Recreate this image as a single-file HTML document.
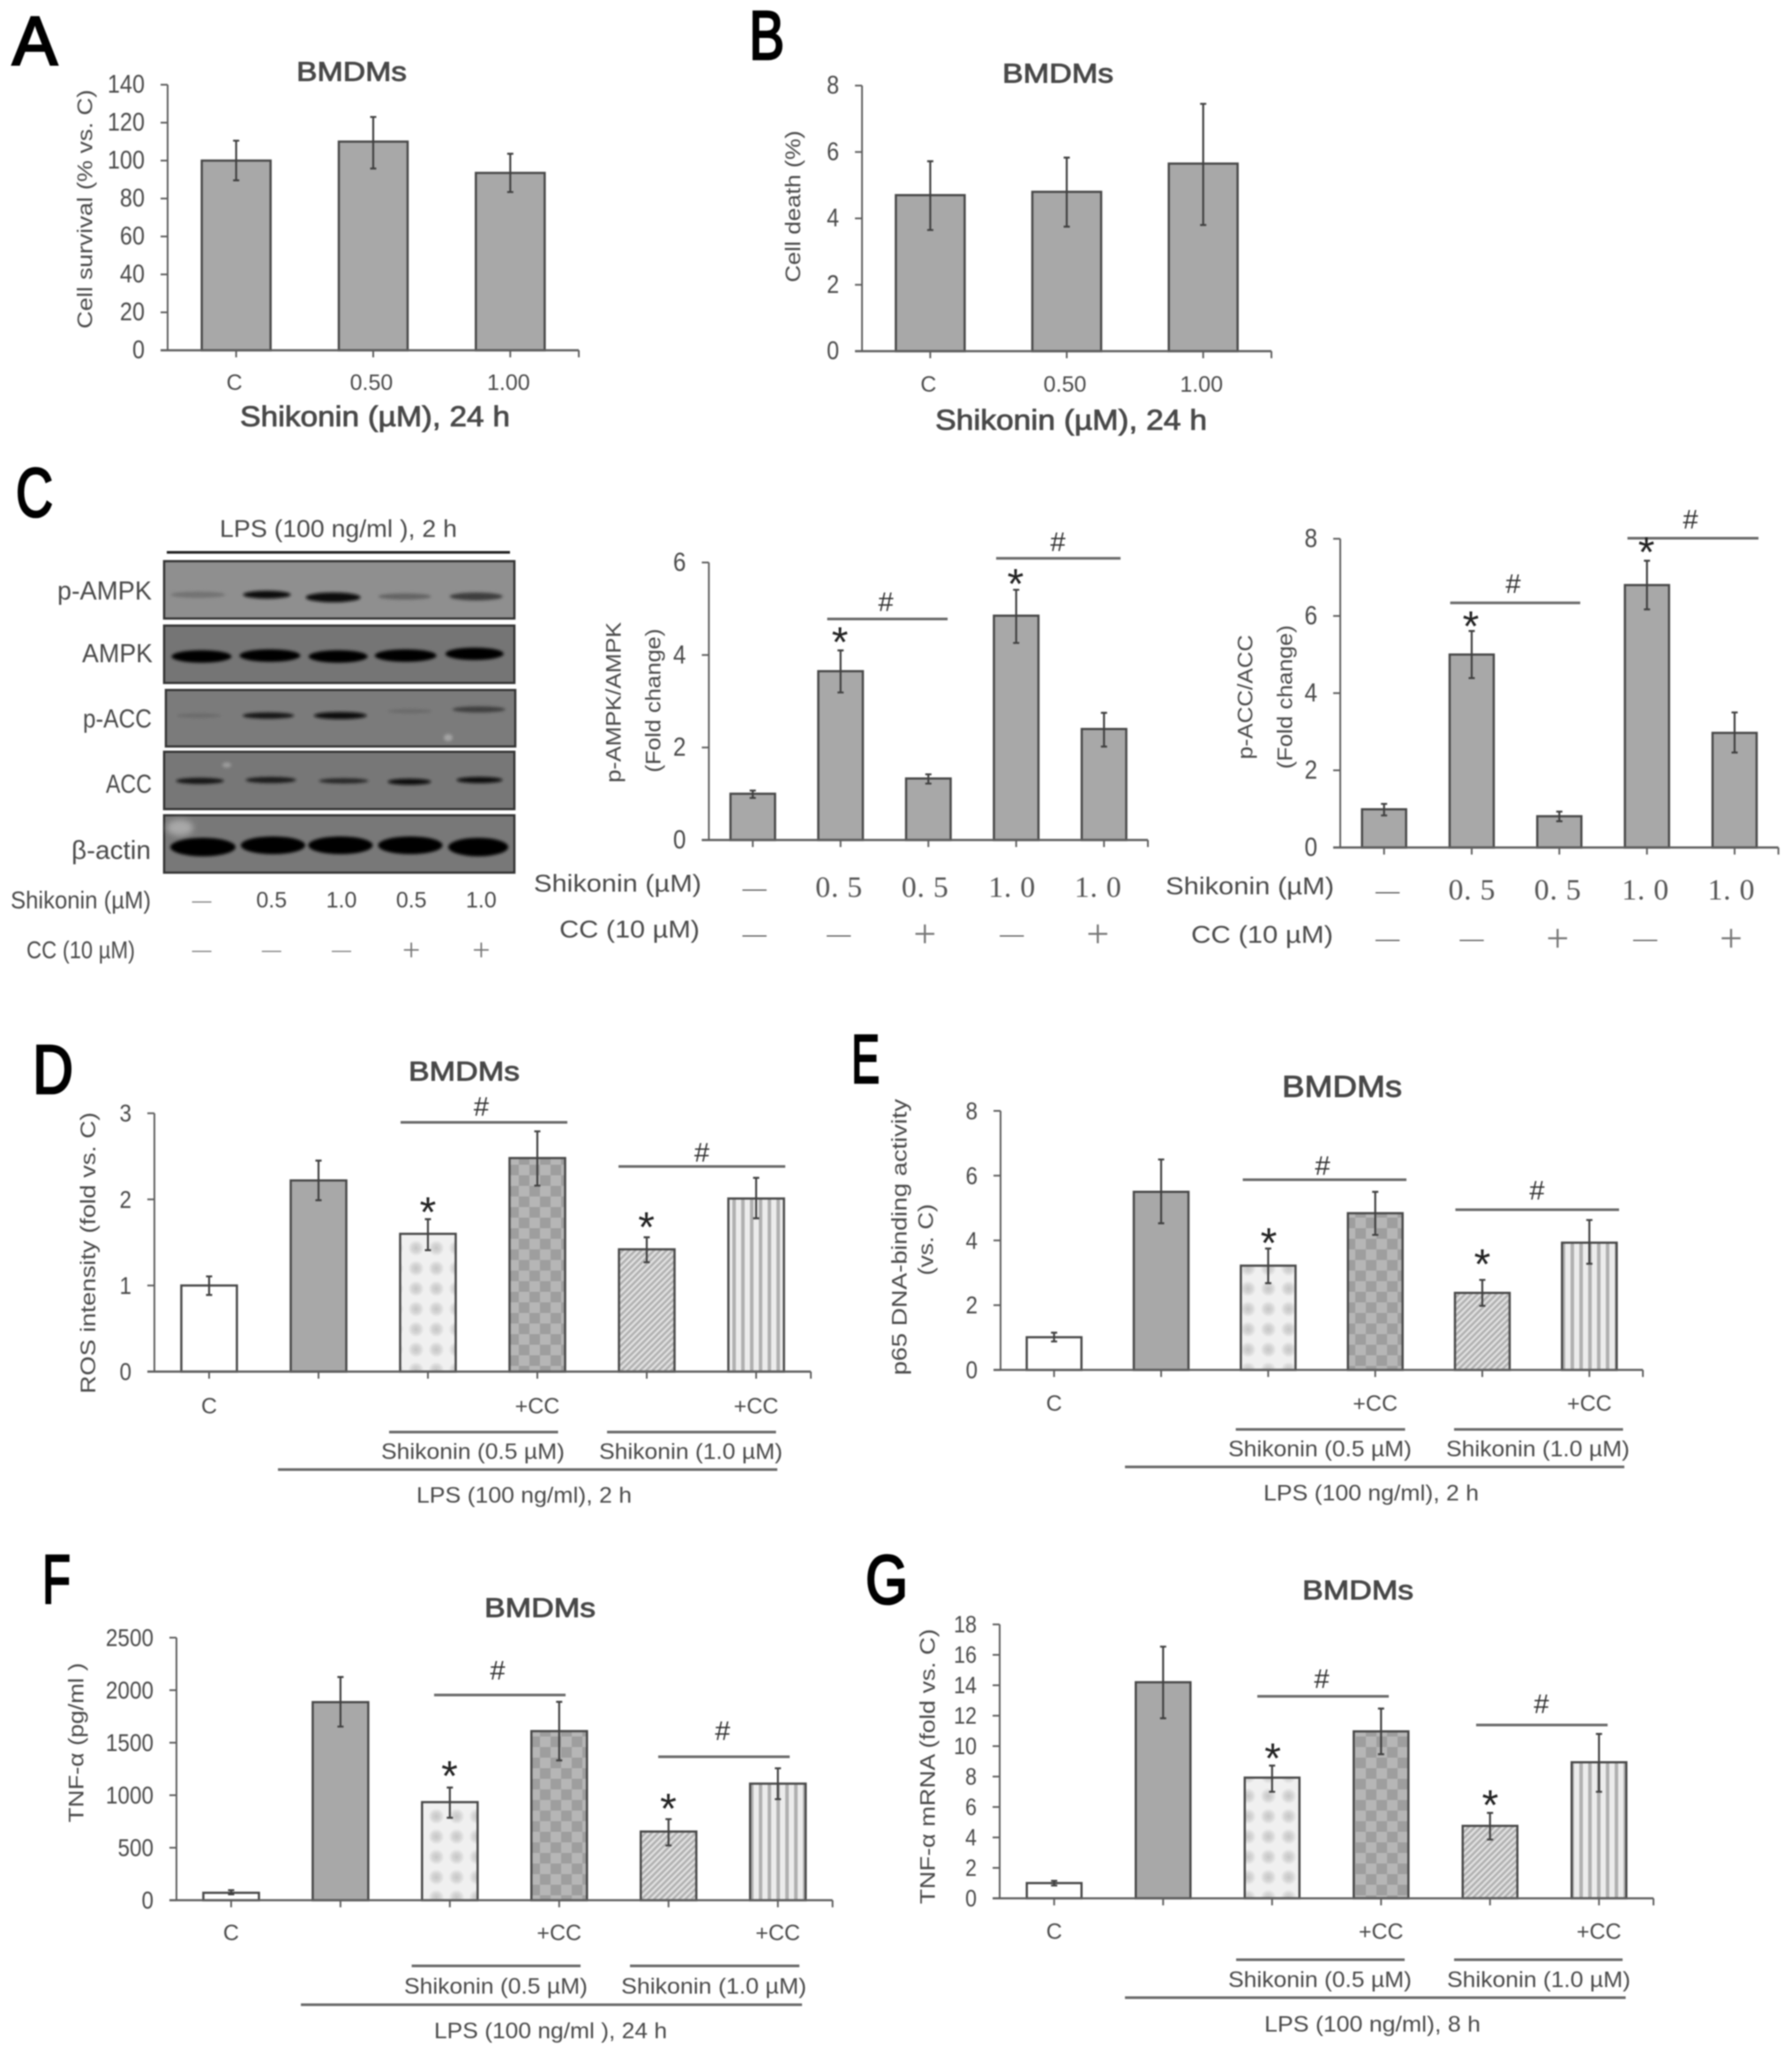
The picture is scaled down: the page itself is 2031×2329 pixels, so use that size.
<!DOCTYPE html>
<html lang="en">
<head>
<meta charset="utf-8">
<title>Shikonin BMDM figure panels</title>
<style>
html,body{margin:0;padding:0;background:#fff;}
#figure{display:block;width:2031px;height:2329px;filter:blur(0.7px);}
text{font-family:"Liberation Sans",sans-serif;fill:#4a4a4a;dominant-baseline:central;text-anchor:middle;}
.letter{font-size:78px;fill:#000;stroke:#000;stroke-width:2.6px;}
.title{font-size:31px;stroke:#444;stroke-width:.9px;}
.xtitle{font-size:32px;stroke:#444;stroke-width:.8px;}
.ylab{font-size:24px;}
.lab{font-size:25px;}
.tick{font-size:26px;}
.star{font-size:48px;fill:#222;dominant-baseline:auto;transform:translateY(-3px);}
.hash{font-size:31px;fill:#333;}
.blot-lab{font-size:30px;}
.rowlab{font-size:28px;}
.serif{font-family:"Liberation Serif",serif;font-size:34px;fill:#555;}
.rule{stroke:#6a6a6a;stroke-width:3;}
.blot{stroke:#333;stroke-width:2.5;}
</style>
</head>
<body>
<svg id="figure" xmlns="http://www.w3.org/2000/svg" width="2031" height="2329" viewBox="0 0 2031 2329">
<defs>
  <pattern id="p-check" width="24" height="24" patternUnits="userSpaceOnUse"><rect width="24" height="24" fill="#b6b6b6"/><rect width="12" height="12" fill="#9e9e9e"/><rect x="12" y="12" width="12" height="12" fill="#9e9e9e"/></pattern>
  <radialGradient id="g-plaid"><stop offset="0" stop-color="#c6c6c6"/><stop offset="0.55" stop-color="#d6d6d6"/><stop offset="1" stop-color="#f0f0f0"/></radialGradient>
  <pattern id="p-plaid" width="23" height="23" patternUnits="userSpaceOnUse"><rect width="23" height="23" fill="#f0f0f0"/><circle cx="11.5" cy="11.5" r="9" fill="url(#g-plaid)"/></pattern>
  <pattern id="p-diag" width="5" height="5" patternUnits="userSpaceOnUse" patternTransform="rotate(45)"><rect width="5" height="5" fill="#e0e0e0"/><rect width="2.5" height="5" fill="#b0b0b0"/></pattern>
  <pattern id="p-vert" width="10" height="10" patternUnits="userSpaceOnUse"><rect width="10" height="10" fill="#ececec"/><rect width="4" height="10" fill="#b0b0b0"/></pattern>
  <filter id="soft" x="-20%" y="-60%" width="140%" height="220%"><feGaussianBlur stdDeviation="1.6"/></filter>
  <filter id="softer" x="-50%" y="-50%" width="200%" height="200%"><feGaussianBlur stdDeviation="3.5"/></filter>
</defs>

<!-- Panel letters -->
<text class="letter" x="39.5" y="46" textLength="51" lengthAdjust="spacingAndGlyphs">A</text>
<text class="letter" x="869" y="40" textLength="40" lengthAdjust="spacingAndGlyphs">B</text>
<text class="letter" x="39" y="558" textLength="42" lengthAdjust="spacingAndGlyphs">C</text>
<text class="letter" x="60" y="1212" textLength="46" lengthAdjust="spacingAndGlyphs">D</text>
<text class="letter" x="981" y="1200" textLength="32" lengthAdjust="spacingAndGlyphs">E</text>
<text class="letter" x="64" y="1790" textLength="32" lengthAdjust="spacingAndGlyphs">F</text>
<text class="letter" x="1005" y="1790" textLength="48" lengthAdjust="spacingAndGlyphs">G</text>

<!-- Panel A annotations -->
<text class="title" x="398.5" y="81" textLength="125" lengthAdjust="spacingAndGlyphs">BMDMs</text>
<text class="ylab" transform="translate(97 237) rotate(-90)" textLength="271" lengthAdjust="spacingAndGlyphs">Cell survival (% vs. C)</text>
<text class="xtitle" x="425" y="472" textLength="306" lengthAdjust="spacingAndGlyphs">Shikonin (µM), 24 h</text>

<!-- Panel B annotations -->
<text class="title" x="1199" y="83" textLength="126" lengthAdjust="spacingAndGlyphs">BMDMs</text>
<text class="ylab" transform="translate(899.5 234) rotate(-90)" textLength="172" lengthAdjust="spacingAndGlyphs">Cell death (%)</text>
<text class="xtitle" x="1214" y="476" textLength="308" lengthAdjust="spacingAndGlyphs">Shikonin (µM), 24 h</text>

<!-- Panel C western blot -->
<g>
  <text class="rowlab" x="383.5" y="599" textLength="269" lengthAdjust="spacingAndGlyphs">LPS (100 ng/ml ), 2 h</text>
  <line x1="189" y1="626" x2="578" y2="626" stroke="#222" stroke-width="3"/>
  <rect class="blot" x="186" y="636" width="397" height="65" fill="#8f8f8f"/>
  <rect class="blot" x="186" y="709" width="397" height="65" fill="#757575"/>
  <rect class="blot" x="188" y="782" width="396" height="64" fill="#7b7b7b"/>
  <rect class="blot" x="186" y="852" width="397" height="65" fill="#777777"/>
  <rect class="blot" x="186" y="924" width="397" height="65" fill="#787878"/>
  <ellipse cx="204" cy="938" rx="15" ry="9" fill="#a8a8a8" filter="url(#softer)"/>
  <ellipse cx="257" cy="867" rx="5" ry="3" fill="#9c9c9c" filter="url(#soft)"/>
  <ellipse cx="508" cy="836" rx="5" ry="4" fill="#a4a4a4" filter="url(#soft)"/>
  <g filter="url(#soft)">
    <ellipse cx="224.4" cy="674" rx="31" ry="3.5" fill="#727272"/>
    <ellipse cx="302.5" cy="674" rx="27" ry="4.5" fill="#0c0c0c"/>
    <ellipse cx="377.6" cy="677" rx="31" ry="5.5" fill="#0a0a0a"/>
    <ellipse cx="458.7" cy="676" rx="30" ry="3.5" fill="#646464"/>
    <ellipse cx="539.7" cy="676" rx="30" ry="4.5" fill="#3e3e3e"/>
    <ellipse cx="228.4" cy="744" rx="34" ry="7" fill="#060606"/>
    <ellipse cx="305.9" cy="743" rx="34.5" ry="7" fill="#060606"/>
    <ellipse cx="383.2" cy="744" rx="33.5" ry="7" fill="#060606"/>
    <ellipse cx="459.7" cy="743" rx="35" ry="7" fill="#060606"/>
    <ellipse cx="537.8" cy="741" rx="33" ry="7" fill="#060606"/>
    <ellipse cx="225.4" cy="811" rx="25" ry="2.5" fill="#6a6a6a"/>
    <ellipse cx="304.1" cy="811" rx="29" ry="3.5" fill="#151515"/>
    <ellipse cx="385.7" cy="811" rx="30" ry="4" fill="#101010"/>
    <ellipse cx="464.6" cy="806" rx="25" ry="2.5" fill="#6a6a6a"/>
    <ellipse cx="542.7" cy="804" rx="30" ry="3.5" fill="#404040"/>
    <ellipse cx="226.6" cy="885" rx="27" ry="3.5" fill="#141414"/>
    <ellipse cx="307" cy="884" rx="28.5" ry="3.5" fill="#1a1a1a"/>
    <ellipse cx="389.5" cy="885" rx="28" ry="3" fill="#262626"/>
    <ellipse cx="464" cy="886" rx="24.5" ry="3.5" fill="#0e0e0e"/>
    <ellipse cx="543.5" cy="884" rx="26" ry="3.5" fill="#0e0e0e"/>
    <ellipse cx="230" cy="960" rx="37" ry="10.5" fill="#000"/>
    <ellipse cx="309.4" cy="958" rx="36.5" ry="10" fill="#000"/>
    <ellipse cx="385.9" cy="958" rx="36.5" ry="10" fill="#000"/>
    <ellipse cx="465" cy="958" rx="36.5" ry="10" fill="#000"/>
    <ellipse cx="542" cy="960" rx="34" ry="10.5" fill="#000"/>
  </g>
  <text class="blot-lab" x="118.5" y="670" textLength="107" lengthAdjust="spacingAndGlyphs">p-AMPK</text>
  <text class="blot-lab" x="133" y="741" textLength="80" lengthAdjust="spacingAndGlyphs">AMPK</text>
  <text class="blot-lab" x="133" y="815" textLength="78" lengthAdjust="spacingAndGlyphs">p-ACC</text>
  <text class="blot-lab" x="146" y="889" textLength="52" lengthAdjust="spacingAndGlyphs">ACC</text>
  <text class="blot-lab" x="126" y="964" textLength="90" lengthAdjust="spacingAndGlyphs">β-actin</text>
  <text class="rowlab" x="91.5" y="1020" textLength="159" lengthAdjust="spacingAndGlyphs">Shikonin (µM)</text>
  <text class="rowlab" x="91.5" y="1076.5" textLength="123" lengthAdjust="spacingAndGlyphs">CC (10 µM)</text>
</g>
<g id="blot-rows"></g>

<!-- Panel C p-AMPK annotations -->
<text class="ylab" transform="translate(696 796) rotate(-90)" textLength="182" lengthAdjust="spacingAndGlyphs">p-AMPK/AMPK</text>
<text class="ylab" transform="translate(741 794) rotate(-90)" textLength="163" lengthAdjust="spacingAndGlyphs">(Fold change)</text>
<line class="rule" x1="937.5" y1="701.5" x2="1074" y2="701.5"/>
<line class="rule" x1="1129" y1="632.7" x2="1270" y2="632.7"/>
<text class="hash" x="1004" y="682">#</text>
<text class="hash" x="1199" y="614">#</text>
<text class="star" x="952" y="747">*</text>
<text class="star" x="1151" y="681">*</text>
<text class="rowlab" x="700" y="1001" textLength="190" lengthAdjust="spacingAndGlyphs">Shikonin (µM)</text>
<text class="rowlab" x="713.5" y="1053" textLength="159" lengthAdjust="spacingAndGlyphs">CC (10 µM)</text>

<!-- Panel C p-ACC annotations -->
<text class="ylab" transform="translate(1412 790) rotate(-90)" textLength="141" lengthAdjust="spacingAndGlyphs">p-ACC/ACC</text>
<text class="ylab" transform="translate(1457 790) rotate(-90)" textLength="163" lengthAdjust="spacingAndGlyphs">(Fold change)</text>
<line class="rule" x1="1643.6" y1="683.3" x2="1791" y2="683.3"/>
<line class="rule" x1="1844.5" y1="610" x2="1993" y2="610"/>
<text class="hash" x="1715" y="661.6">#</text>
<text class="hash" x="1916" y="588.6">#</text>
<text class="star" x="1667" y="729">*</text>
<text class="star" x="1866" y="645">*</text>
<text class="rowlab" x="1416.5" y="1004" textLength="191" lengthAdjust="spacingAndGlyphs">Shikonin (µM)</text>
<text class="rowlab" x="1430.5" y="1059" textLength="161" lengthAdjust="spacingAndGlyphs">CC (10 µM)</text>

<!-- Panel D annotations -->
<text class="title" x="526" y="1214" textLength="126" lengthAdjust="spacingAndGlyphs">BMDMs</text>
<text class="ylab" transform="translate(100.7 1420) rotate(-90)" textLength="319" lengthAdjust="spacingAndGlyphs">ROS intensity (fold vs. C)</text>
<line class="rule" x1="454" y1="1272" x2="643" y2="1272"/>
<line class="rule" x1="701" y1="1322" x2="890" y2="1322"/>
<text class="hash" x="545.5" y="1254">#</text>
<text class="hash" x="795.5" y="1306">#</text>
<text class="star" x="485" y="1393">*</text>
<text class="star" x="732.6" y="1410">*</text>
<line class="rule" x1="441" y1="1623" x2="632.5" y2="1623"/>
<line class="rule" x1="688" y1="1623" x2="879.5" y2="1623"/>
<line class="rule" x1="315" y1="1665.5" x2="881" y2="1665.5"/>
<text class="lab" x="536" y="1645.6" textLength="208" lengthAdjust="spacingAndGlyphs">Shikonin (0.5 µM)</text>
<text class="lab" x="783" y="1645.6" textLength="208" lengthAdjust="spacingAndGlyphs">Shikonin (1.0 µM)</text>
<text class="lab" x="594" y="1695" textLength="244" lengthAdjust="spacingAndGlyphs">LPS (100 ng/ml), 2 h</text>

<!-- Panel E annotations -->
<text class="title" x="1521" y="1232" textLength="136" lengthAdjust="spacingAndGlyphs" style="font-size:34px">BMDMs</text>
<text class="ylab" transform="translate(1020 1402) rotate(-90)" textLength="313" lengthAdjust="spacingAndGlyphs">p65 DNA-binding activity</text>
<text class="ylab" transform="translate(1050 1405) rotate(-90)" textLength="81" lengthAdjust="spacingAndGlyphs">(vs. C)</text>
<line class="rule" x1="1408.5" y1="1337" x2="1594" y2="1337"/>
<line class="rule" x1="1649.5" y1="1371" x2="1835" y2="1371"/>
<text class="hash" x="1499" y="1321">#</text>
<text class="hash" x="1742" y="1349">#</text>
<text class="star" x="1438" y="1428">*</text>
<text class="star" x="1680" y="1452">*</text>
<line class="rule" x1="1400.6" y1="1620" x2="1592.5" y2="1620"/>
<line class="rule" x1="1648" y1="1620" x2="1839.5" y2="1620"/>
<line class="rule" x1="1275" y1="1662.5" x2="1841" y2="1662.5"/>
<text class="lab" x="1496" y="1642.5" textLength="208" lengthAdjust="spacingAndGlyphs">Shikonin (0.5 µM)</text>
<text class="lab" x="1743" y="1642.5" textLength="208" lengthAdjust="spacingAndGlyphs">Shikonin (1.0 µM)</text>
<text class="lab" x="1554" y="1692.6" textLength="244" lengthAdjust="spacingAndGlyphs">LPS (100 ng/ml), 2 h</text>

<!-- Panel F annotations -->
<text class="title" x="612" y="1822" textLength="126" lengthAdjust="spacingAndGlyphs">BMDMs</text>
<text class="ylab" transform="translate(87 1975) rotate(-90)" textLength="181" lengthAdjust="spacingAndGlyphs">TNF-α (pg/ml )</text>
<line class="rule" x1="492" y1="1921" x2="641" y2="1921"/>
<line class="rule" x1="746" y1="1991" x2="895" y2="1991"/>
<text class="hash" x="564" y="1893">#</text>
<text class="hash" x="819" y="1961.6">#</text>
<text class="star" x="509.5" y="2032">*</text>
<text class="star" x="757.5" y="2069">*</text>
<line class="rule" x1="466.6" y1="2228" x2="658" y2="2228"/>
<line class="rule" x1="714" y1="2228" x2="906" y2="2228"/>
<line class="rule" x1="341" y1="2272" x2="909" y2="2272"/>
<text class="lab" x="562" y="2251.5" textLength="208" lengthAdjust="spacingAndGlyphs">Shikonin (0.5 µM)</text>
<text class="lab" x="809" y="2251.5" textLength="210" lengthAdjust="spacingAndGlyphs">Shikonin (1.0 µM)</text>
<text class="lab" x="624" y="2302" textLength="264" lengthAdjust="spacingAndGlyphs">LPS (100 ng/ml ), 24 h</text>

<!-- Panel G annotations -->
<text class="title" x="1539" y="1802" textLength="126" lengthAdjust="spacingAndGlyphs">BMDMs</text>
<text class="ylab" transform="translate(1052 2002) rotate(-90)" textLength="312" lengthAdjust="spacingAndGlyphs">TNF-α mRNA (fold vs. C)</text>
<line class="rule" x1="1425" y1="1922.5" x2="1574" y2="1922.5"/>
<line class="rule" x1="1673" y1="1955" x2="1822" y2="1955"/>
<text class="hash" x="1498" y="1902.5">#</text>
<text class="hash" x="1747" y="1931">#</text>
<text class="star" x="1442.5" y="2012">*</text>
<text class="star" x="1689" y="2065">*</text>
<line class="rule" x1="1401" y1="2221" x2="1592" y2="2221"/>
<line class="rule" x1="1648" y1="2221" x2="1839" y2="2221"/>
<line class="rule" x1="1275" y1="2264" x2="1842.5" y2="2264"/>
<text class="lab" x="1496" y="2244" textLength="208" lengthAdjust="spacingAndGlyphs">Shikonin (0.5 µM)</text>
<text class="lab" x="1744" y="2244" textLength="208" lengthAdjust="spacingAndGlyphs">Shikonin (1.0 µM)</text>
<text class="lab" x="1555.5" y="2294.7" textLength="245" lengthAdjust="spacingAndGlyphs">LPS (100 ng/ml), 8 h</text>

<g id="charts"></g>
</svg>

<script>
// ---- Panel A ----
const aCategories = ['C', '0.50', '1.00'];
const aValues = [100, 110, 93.5];
const aErrHigh = [110.5, 123, 103.6];
const aErrLow = [89.6, 95.8, 83.4];
const aTicks = [0, 20, 40, 60, 80, 100, 120, 140];
// ---- Panel B ----
const bCategories = ['C', '0.50', '1.00'];
const bValues = [4.7, 4.8, 5.65];
const bErrHigh = [5.72, 5.83, 7.45];
const bErrLow = [3.65, 3.75, 3.8];
const bTicks = [0, 2, 4, 6, 8];
// ---- Panel C, p-AMPK ----
const ampkValues = [1.0, 3.65, 1.33, 4.85, 2.4];
const ampkErrHigh = [1.07, 4.1, 1.42, 5.41, 2.75];
const ampkErrLow = [0.91, 3.19, 1.22, 4.26, 2.02];
const ampkTicks = [0, 2, 4, 6];
// ---- Panel C, p-ACC ----
const accValues = [0.99, 5.0, 0.81, 6.8, 2.97];
const accErrHigh = [1.13, 5.61, 0.93, 7.43, 3.5];
const accErrLow = [0.83, 4.39, 0.68, 6.17, 2.46];
const accTicks = [0, 2, 4, 6, 8];
// ---- Panel C treatment rows ----
const blotShikonin = ['—', '0.5', '1.0', '0.5', '1.0'];
const blotCC = ['—', '—', '—', '+', '+'];
const chartShikonin = ['—', '0. 5', '0. 5', '1. 0', '1. 0'];
const chartCC = ['—', '—', '+', '—', '+'];
// ---- Panel D ----
const treatmentCategories = ['C', '', '', '+CC', '', '+CC'];
const dValues = [1.0, 2.22, 1.6, 2.48, 1.42, 2.01];
const dErrHigh = [1.106, 2.45, 1.77, 2.79, 1.56, 2.25];
const dErrLow = [0.89, 1.99, 1.41, 2.16, 1.27, 1.78];
const dTicks = [0, 1, 2, 3];
// ---- Panel E ----
const eValues = [1.01, 5.5, 3.22, 4.84, 2.38, 3.93];
const eErrHigh = [1.15, 6.5, 3.75, 5.5, 2.78, 4.63];
const eErrLow = [0.88, 4.53, 2.68, 4.17, 1.98, 3.28];
const eTicks = [0, 2, 4, 6, 8];
// ---- Panel F ----
const fValues = [71, 1886, 934, 1610, 654, 1110];
const fErrHigh = [96, 2125, 1073, 1889, 772, 1256];
const fErrLow = [56, 1653, 785, 1331, 521, 962];
const fTicks = [0, 500, 1000, 1500, 2000, 2500];
// ---- Panel G ----
const gValues = [1.0, 14.2, 7.93, 10.97, 4.76, 8.94];
const gErrHigh = [1.15, 16.54, 8.72, 12.47, 5.61, 10.8];
const gErrLow = [0.84, 11.83, 7.0, 9.47, 3.86, 7.0];
const gTicks = [0, 2, 4, 6, 8, 10, 12, 14, 16, 18];

const SVG_NS = 'http://www.w3.org/2000/svg';
const SOLID = '#a8a8a8';
const TREATMENT_FILLS = ['#ffffff', SOLID, 'url(#p-plaid)', 'url(#p-check)', 'url(#p-diag)', 'url(#p-vert)'];
const AXIS_COLOR = '#5f5f5f';
const MARK_COLOR = '#484848';

function svgEl(parent, tag, props) {
  const el = document.createElementNS(SVG_NS, tag);
  for (const k in props) {
    el.setAttribute(k, props[k]);
  }
  parent.appendChild(el);
  return el;
}

function makeXScale(x0, x1, n) {
  const band = (x1 - x0) / n;
  return function (i) { return x0 + (i + 0.5) * band; };
}

function makeYScale(yBottom, yTop, yMax) {
  return function (v) { return yBottom - (v / yMax) * (yBottom - yTop); };
}

function drawChart(cfg) {
  const root = document.getElementById('charts');
  const key = cfg.key;
  const n = cfg.values.length;
  const xAt = makeXScale(cfg.x0, cfg.x1, n);
  const yAt = makeYScale(cfg.yBottom, cfg.yTop, cfg.yMax);

  const group = svgEl(root, 'g', {});
  
  

  // bars
  cfg.values.forEach(function (v, i) {
    const top = yAt(v);
    const bar = svgEl(group, 'rect', {
      x: xAt(i) - cfg.barW / 2, y: top, width: cfg.barW, height: cfg.yBottom - top,
      fill: cfg.fills ? cfg.fills[i] : SOLID, stroke: MARK_COLOR, 'stroke-width': 2.5
    });
    
    
  });

  // error bars
  cfg.values.forEach(function (v, i) {
    const cx = xAt(i);
    const hi = yAt(cfg.high[i]);
    const lo = yAt(cfg.low[i]);
    const err = svgEl(group, 'path', {
      d: 'M' + (cx - 3.5) + ' ' + hi + 'H' + (cx + 3.5) + 'M' + cx + ' ' + hi + 'V' + lo + 'M' + (cx - 3.5) + ' ' + lo + 'H' + (cx + 3.5),
      fill: 'none', stroke: '#404040', 'stroke-width': 2.2
    });
    
    
  });

  // axes
  const yAxis = svgEl(group, 'line', { x1: cfg.x0, y1: cfg.yTop, x2: cfg.x0, y2: cfg.yBottom, stroke: AXIS_COLOR, 'stroke-width': 2 });
  
  
  const xAxis = svgEl(group, 'line', { x1: cfg.x0 - 8, y1: cfg.yBottom, x2: cfg.x1, y2: cfg.yBottom, stroke: AXIS_COLOR, 'stroke-width': 2.4 });
  
  

  // y ticks + labels (tall, slightly condensed digits as in the source artwork)
  cfg.ticks.forEach(function (t) {
    const y = yAt(t);
    const tick = svgEl(group, 'line', { x1: cfg.x0 - 8, y1: y, x2: cfg.x0, y2: y, stroke: AXIS_COLOR, 'stroke-width': 2 });
    
    
    const text = String(t);
    const label = svgEl(group, 'text', {
      x: cfg.x0 - 26, y: y, class: 'tick', style: 'text-anchor:end;font-size:' + (cfg.tickFont + 2) + 'px',
      textLength: text.length * cfg.tickFont * 0.52, lengthAdjust: 'spacingAndGlyphs'
    });
    label.textContent = text;
    
    
  });

  // x ticks
  for (let i = 0; i < n; i++) {
    const tick = svgEl(group, 'line', { x1: xAt(i), y1: cfg.yBottom, x2: xAt(i), y2: cfg.yBottom + 8, stroke: AXIS_COLOR, 'stroke-width': 2 });
    
    
  }
  const endTick = svgEl(group, 'line', { x1: cfg.x1, y1: cfg.yBottom, x2: cfg.x1, y2: cfg.yBottom + 8, stroke: AXIS_COLOR, 'stroke-width': 2 });
  
  

  // category labels
  if (cfg.categories) {
    cfg.categories.forEach(function (c, i) {
      if (!c) { return; }
      const label = svgEl(group, 'text', { x: xAt(i) - (cfg.catShift || 0), y: cfg.catY, class: 'lab' });
      label.textContent = c;
      
      
    });
  }

  // treatment rows below panel C charts
  if (cfg.rowA) {
    cfg.rowA.forEach(function (c, i) {
      const isDash = c === '—';
      const label = svgEl(group, 'text', {
        x: xAt(i) + cfg.rowShift[i], y: cfg.rowAY,
        class: 'serif', style: isDash ? 'font-size:27px' : ''
      });
      if (!isDash) {
        label.setAttribute('textLength', 53);
        label.setAttribute('lengthAdjust', 'spacing');
      }
      label.textContent = c;
      
      
    });
    cfg.rowB.forEach(function (c, i) {
      const label = svgEl(group, 'text', {
        x: xAt(i) + cfg.rowShift[i], y: cfg.rowBY,
        class: 'serif', style: c === '+' ? 'font-size:46px;fill:#777' : 'font-size:27px'
      });
      label.textContent = c;
      
      
    });
  }
}

function drawBlotRows() {
  const root = document.getElementById('blot-rows');
  const xAt = makeXScale(189, 585, 5);
  blotShikonin.forEach(function (c, i) {
    const label = svgEl(root, 'text', { x: xAt(i), y: 1020.6, class: 'rowlab', style: c === '—' ? 'font-size:22px;fill:#888' : 'font-size:25px' });
    label.textContent = c;
    
    
  });
  blotCC.forEach(function (c, i) {
    const label = svgEl(root, 'text', { x: xAt(i), y: 1076.5, class: 'rowlab', style: c === '+' ? 'font-size:36px;fill:#777;font-family:\'Liberation Serif\',serif' : 'font-size:22px;fill:#888' });
    label.textContent = c;
    
    
  });
}

drawChart({ key: 'panel-a', x0: 190, x1: 656, yBottom: 397, yTop: 96, yMax: 140, barW: 78, tickFont: 27, catShift: 2,
  values: aValues, high: aErrHigh, low: aErrLow, ticks: aTicks, categories: aCategories, catY: 434 });
drawChart({ key: 'panel-b', x0: 977, x1: 1441, yBottom: 398, yTop: 97, yMax: 8, barW: 78, tickFont: 27, catShift: 2,
  values: bValues, high: bErrHigh, low: bErrLow, ticks: bTicks, categories: bCategories, catY: 436 });
drawChart({ key: 'p-ampk', x0: 803.4, x1: 1301, yBottom: 952, yTop: 637.5, yMax: 6, barW: 50.5, tickFont: 28,
  values: ampkValues, high: ampkErrHigh, low: ampkErrLow, ticks: ampkTicks,
  rowA: chartShikonin, rowB: chartCC, rowAY: 1006, rowBY: 1058, rowShift: [2, -2, -4, -5, -7] });
drawChart({ key: 'p-acc', x0: 1519, x1: 2015.6, yBottom: 960.5, yTop: 610.6, yMax: 8, barW: 50, tickFont: 28,
  values: accValues, high: accErrHigh, low: accErrLow, ticks: accTicks,
  rowA: chartShikonin, rowB: chartCC, rowAY: 1009, rowBY: 1063, rowShift: [4, 0, -2, -2, -4] });
drawChart({ key: 'panel-d', x0: 175, x1: 919, yBottom: 1554.5, yTop: 1261.7, yMax: 3, barW: 63, tickFont: 26,
  values: dValues, high: dErrHigh, low: dErrLow, ticks: dTicks, categories: treatmentCategories, catY: 1594, fills: TREATMENT_FILLS });
drawChart({ key: 'panel-e', x0: 1134, x1: 1862, yBottom: 1552.6, yTop: 1259, yMax: 8, barW: 62, tickFont: 26,
  values: eValues, high: eErrHigh, low: eErrLow, ticks: eTicks, categories: treatmentCategories, catY: 1591, fills: TREATMENT_FILLS });
drawChart({ key: 'panel-f', x0: 200, x1: 943.6, yBottom: 2153.6, yTop: 1856, yMax: 2500, barW: 63, tickFont: 26,
  values: fValues, high: fErrHigh, low: fErrLow, ticks: fTicks, categories: treatmentCategories, catY: 2191, fills: TREATMENT_FILLS });
drawChart({ key: 'panel-g', x0: 1133, x1: 1874, yBottom: 2151.4, yTop: 1841, yMax: 18, barW: 62, tickFont: 25,
  values: gValues, high: gErrHigh, low: gErrLow, ticks: gTicks, categories: treatmentCategories, catY: 2189.4, fills: TREATMENT_FILLS });
drawBlotRows();
</script>
</body>
</html>
